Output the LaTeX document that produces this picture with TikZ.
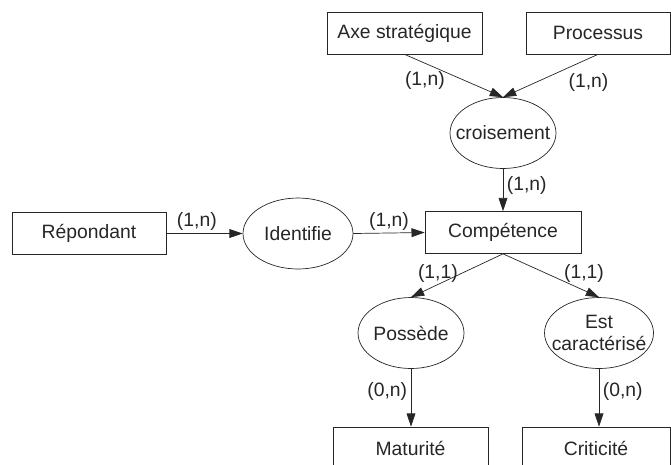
\documentclass[tikz,border=0pt]{standalone}
\usepackage{fontspec}
\setmainfont{Liberation Sans}
\usetikzlibrary{shapes,arrows.meta,positioning}
\tikzset{
    -{Triangle[length=7.5pt,width=5pt]},auto,line width=0.5pt,
    entity/.style ={rectangle, draw, minimum height=0.84cm, inner sep=0pt},
    state/.style ={ellipse, draw, align=center, minimum width=2.12cm, minimum height=1.42cm, inner xsep=-6pt, inner ysep=0pt},
    el/.style = {inner sep=2pt}
}
\begin{document}
\begin{tikzpicture}[x=0.02cm,y=-0.02cm,font=\fontsize{11}{13}\selectfont,color=black!85]
    \useasboundingbox (0,0) rectangle (671,464);

    \node[entity, minimum width=3.1cm] (A) at (404.5,33) {Axe stratégique};
    \node[entity, minimum width=2.88cm] (P) at (598,33) {Processus};
    \node[state] (cr) at (503,133) {croisement};
    \node[entity, minimum width=3.08cm] (R) at (89,233.5) {Répondant};
    \node[state, minimum width=2.2cm] (id) at (298,233.5) {Identifie};
    \node[entity, minimum width=3.12cm] (C) at (503,232.5) {Compétence};
    \node[state] (pos) at (411,333) {Possède};
    \node[state, minimum width=2.18cm] (est) at (599,333) {Est\\caractérisé};
    \node[entity, minimum width=3.1cm] (mat) at (410.5,448) {Maturité};
    \node[entity, minimum width=2.96cm] (cri) at (596,448) {Criticité};

    \path (A.south) edge node[el, left, pos=0.6, xshift=-0.3cm] {(1,n)} (cr.north);
    \path (P.south) edge node[el, below right, pos=0.35] {(1,n)} (cr.north);
    \path (cr.south) edge node[el, right, pos=0.4] {(1,n)} (C.north);
    \path (R.east) edge node[el, above=-0.5pt, pos=0.4] {(1,n)} (id.west);
    \path (id.east) edge node[el, above=-0.5pt] {(1,n)} (C.west);
    \path (C.south) edge node[el, left, pos=0.45] {(1,1)} (pos.north);
    \path (C.south) edge node[el, right, pos=0.45, xshift=0.28cm] {(1,1)} (est.north);
    \path (pos.south) edge node[el, left, pos=0.4] {(0,n)} (pos.south |- mat.north);
    \path (est.south) edge node[el, right, pos=0.4] {(0,n)} (est.south |- cri.north);
\end{tikzpicture}
\end{document}
